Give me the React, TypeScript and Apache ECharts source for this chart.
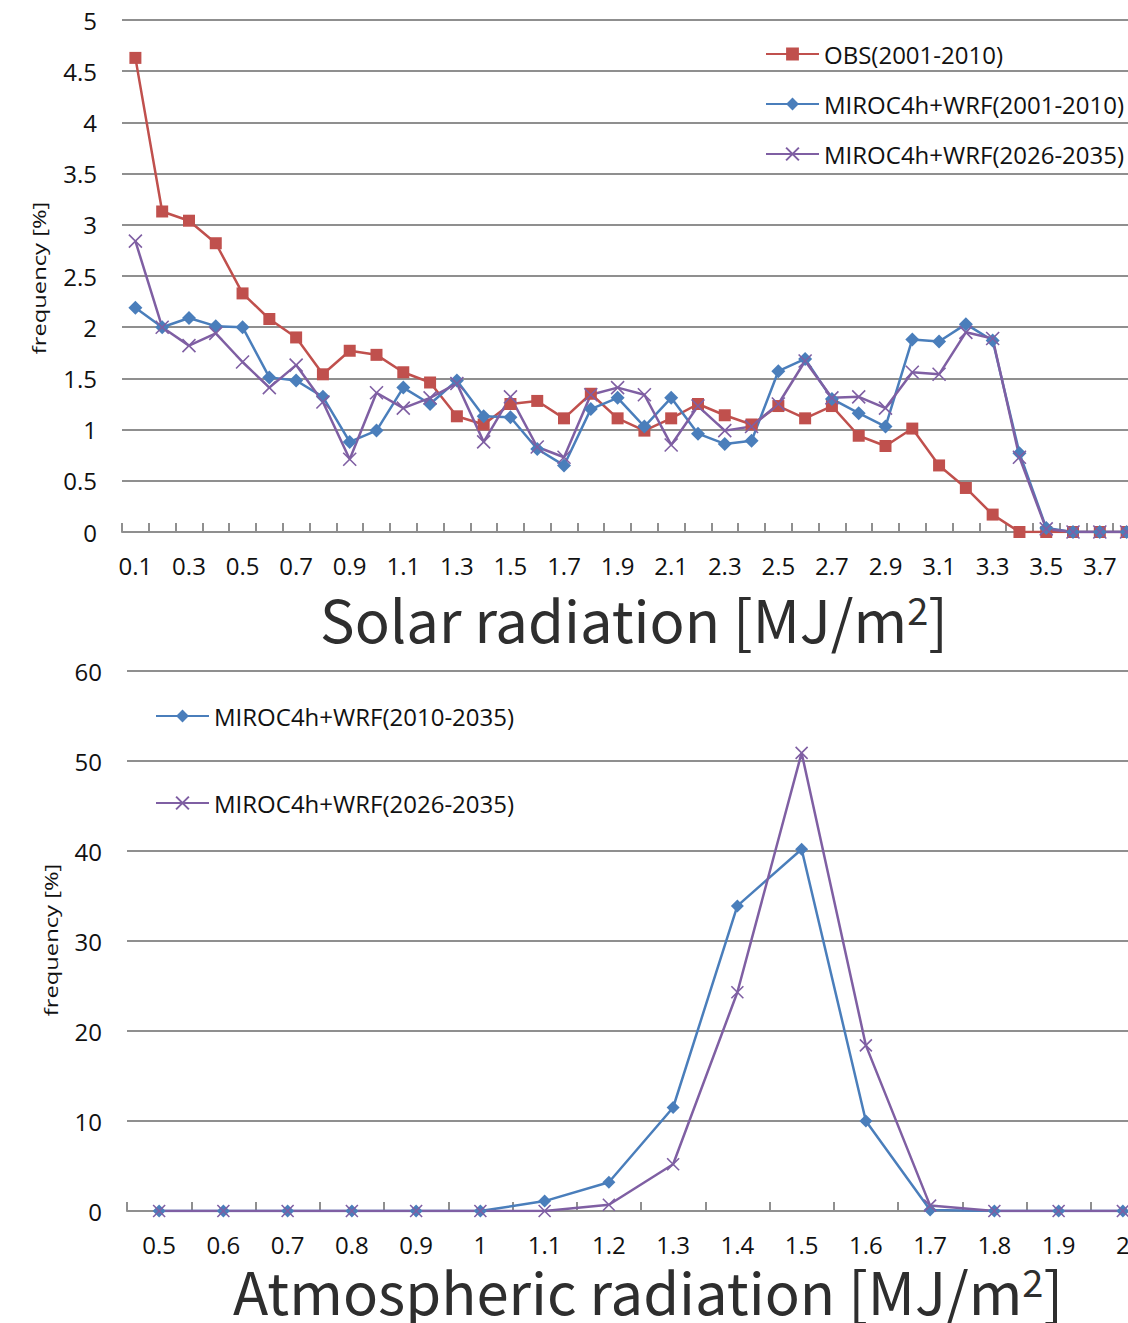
import React, { useEffect, useRef } from "react";
import * as echarts from "echarts";

const solarCategories = [
  "0.1", "0.2", "0.3", "0.4", "0.5", "0.6", "0.7", "0.8", "0.9", "1",
  "1.1", "1.2", "1.3", "1.4", "1.5", "1.6", "1.7", "1.8", "1.9", "2",
  "2.1", "2.2", "2.3", "2.4", "2.5", "2.6", "2.7", "2.8", "2.9", "3",
  "3.1", "3.2", "3.3", "3.4", "3.5", "3.6", "3.7", "3.8",
];
const obs20012010 = [
  4.63, 3.13, 3.04, 2.82, 2.33, 2.08, 1.9, 1.54, 1.77, 1.73,
  1.56, 1.46, 1.13, 1.05, 1.25, 1.28, 1.11, 1.35, 1.11, 0.99,
  1.11, 1.25, 1.14, 1.05, 1.23, 1.11, 1.23, 0.94, 0.84, 1.01,
  0.65, 0.43, 0.17, 0, 0, 0, 0, 0,
];
const miroc20012010 = [
  2.19, 2.0, 2.09, 2.01, 2.0, 1.51, 1.48, 1.32, 0.88, 0.99,
  1.41, 1.25, 1.48, 1.13, 1.12, 0.81, 0.65, 1.2, 1.31, 1.03,
  1.31, 0.96, 0.86, 0.89, 1.57, 1.69, 1.3, 1.16, 1.03, 1.88,
  1.86, 2.03, 1.87, 0.77, 0.04, 0, 0, 0,
];
const miroc20262035Solar = [
  2.84, 2.0, 1.82, 1.94, 1.66, 1.41, 1.63, 1.27, 0.71, 1.36,
  1.21, 1.31, 1.45, 0.88, 1.32, 0.83, 0.73, 1.34, 1.41, 1.34,
  0.85, 1.23, 0.99, 1.03, 1.25, 1.67, 1.31, 1.32, 1.21, 1.56,
  1.54, 1.95, 1.89, 0.73, 0.03, 0, 0, 0,
];

const atmCategories = [
  "0.5", "0.6", "0.7", "0.8", "0.9", "1", "1.1", "1.2",
  "1.3", "1.4", "1.5", "1.6", "1.7", "1.8", "1.9", "2",
];
const miroc20102035Atm = [0, 0, 0, 0, 0, 0, 1.1, 3.2, 11.5, 33.9, 40.2, 10.0, 0.1, 0, 0, 0];
const miroc20262035Atm = [0, 0, 0, 0, 0, 0, 0, 0.7, 5.2, 24.3, 50.9, 18.4, 0.6, 0, 0, 0];

const solarYTicks = { min: 0, max: 5, interval: 0.5 };
const atmYTicks = { min: 0, max: 60, interval: 10 };

const RED = "#C0504D";
const BLUE = "#4A7EBB";
const PURPLE = "#7F5FA3";
const GRID = "#8f8f8f";
const FONT = "'Open Sans', sans-serif";
const TITLE_FONT = "'Noto Sans CJK JP', sans-serif";
const CROSS = "path://M0,0L10,10M10,0L0,10";

const NAME_OBS = "OBS(2001-2010)";
const NAME_M1 = "MIROC4h+WRF(2001-2010)";
const NAME_M2 = "MIROC4h+WRF(2026-2035)";
const NAME_M3 = "MIROC4h+WRF(2010-2035)";

function xAxisCfg(gridIndex: number, data: string[], labelInterval: number) {
  return {
    type: "category",
    gridIndex,
    data,
    boundaryGap: true,
    axisLine: { show: true, lineStyle: { color: GRID, width: 2 } },
    axisTick: { show: true, inside: true, length: 9, interval: 0, lineStyle: { color: GRID, width: 2 } },
    axisLabel: {
      interval: labelInterval,
      margin: 21,
      fontFamily: FONT,
      fontSize: 24,
      color: "#111",
    },
    splitLine: { show: false },
  };
}

function yAxisCfg(gridIndex: number, t: { min: number; max: number; interval: number }) {
  return {
    type: "value",
    gridIndex,
    min: t.min,
    max: t.max,
    interval: t.interval,
    axisLine: { show: false },
    axisTick: { show: false },
    axisLabel: { margin: 25, fontFamily: FONT, fontSize: 24, color: "#111" },
    splitLine: { show: true, lineStyle: { color: GRID, width: 2 } },
  };
}

function lineSeries(name: string, data: number[], xi: number, color: string, symbol: string, size: number, cross = false) {
  return {
    type: "line",
    name,
    data,
    xAxisIndex: xi,
    yAxisIndex: xi,
    symbol,
    symbolSize: size,
    showAllSymbol: true,
    lineStyle: { color, width: 2.5 },
    itemStyle: cross
      ? { color: "rgba(0,0,0,0)", borderColor: color, borderWidth: 1.6 }
      : { color, borderColor: color, borderWidth: 0 },
    emphasis: { disabled: true },
  };
}

function titleText(text: string, x: number, y: number) {
  return {
    type: "text",
    x,
    y,
    style: {
      text: text + "{sup|2}]",
      fontFamily: TITLE_FONT,
      fontSize: 58,
      lineHeight: 58,
      fill: "#2e2e2e",
      align: "center",
      verticalAlign: "middle",
      rich: {
        sup: { fontFamily: TITLE_FONT, fontSize: 38, lineHeight: 40, fill: "#2e2e2e", verticalAlign: "top" },
      },
    },
  };
}

function yTitle(x: number, y: number) {
  return {
    type: "text",
    x,
    y,
    rotation: Math.PI / 2,
    scaleX: 1.25,
    style: {
      text: "frequency [%]",
      fontFamily: FONT,
      fontSize: 19,
      fill: "#111",
      align: "center",
      verticalAlign: "middle",
    },
  };
}

export default function App() {
  const ref = useRef<HTMLDivElement>(null);
  useEffect(() => {
    if (!ref.current) return;
    const chart = echarts.init(ref.current, null, { renderer: "svg" });
    const legendText = { fontFamily: FONT, fontSize: 24, color: "#111", lineHeight: 24 };
    const option: any = {
      animation: false,
      backgroundColor: "#fff",
      grid: [
        { left: 122, top: 20, width: 1018, height: 512 },
        { left: 127, top: 671, width: 1028, height: 540 },
      ],
      xAxis: [xAxisCfg(0, solarCategories, 1), xAxisCfg(1, atmCategories, 0)],
      yAxis: [yAxisCfg(0, solarYTicks), yAxisCfg(1, atmYTicks)],
      legend: [
        {
          orient: "vertical",
          left: 765,
          top: 42,
          padding: 0,
          itemWidth: 53,
          itemHeight: 16,
          itemGap: 26,
          data: [NAME_OBS, NAME_M1, NAME_M2],
          textStyle: legendText,
          selectedMode: false,
        },
        {
          orient: "vertical",
          left: 155,
          top: 704,
          padding: 0,
          itemWidth: 53,
          itemHeight: 16,
          itemGap: 63,
          data: [NAME_M3, NAME_M2],
          textStyle: legendText,
          selectedMode: false,
        },
      ],
      series: [
        lineSeries(NAME_OBS, obs20012010, 0, RED, "rect", 12),
        lineSeries(NAME_M1, miroc20012010, 0, BLUE, "diamond", 14),
        lineSeries(NAME_M2, miroc20262035Solar, 0, PURPLE, CROSS, 13, true),
        lineSeries(NAME_M3, miroc20102035Atm, 1, BLUE, "diamond", 13),
        lineSeries(NAME_M2, miroc20262035Atm, 1, PURPLE, CROSS, 12, true),
      ],
      graphic: [
        yTitle(38, 278),
        yTitle(50, 940),
        titleText("Solar radiation [MJ/m", 634, 618),
        titleText("Atmospheric radiation [MJ/m", 648, 1290),
      ],
    };
    chart.setOption(option);
    return () => chart.dispose();
  }, []);
  return (
    <div style={{ position: "absolute", left: 0, top: 0, width: 1128, height: 1323, overflow: "hidden", background: "#fff" }}>
      <div ref={ref} style={{ width: 1160, height: 1323 }} />
    </div>
  );
}
